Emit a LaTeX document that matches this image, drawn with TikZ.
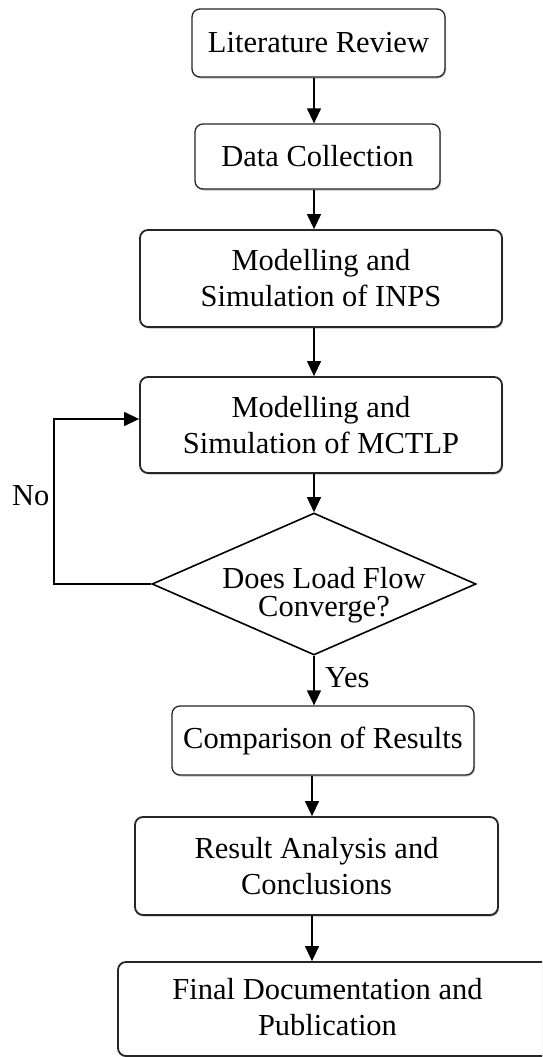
\documentclass[tikz,border=0pt]{standalone}
\usepackage{fontspec}
\setmainfont{Liberation Serif}
\usetikzlibrary{shapes.geometric,arrows.meta,shadows}
\begin{document}
\begin{tikzpicture}[x=1pt,y=-1pt,
  font=\fontsize{30.5}{36}\selectfont,
  box/.style={draw=black!85,rounded corners=8pt,line width=1.3pt,align=center,
    inner sep=0pt,fill=white,
    drop shadow={shadow xshift=1pt,shadow yshift=-1.5pt,opacity=0.25,fill=black}},
  bigbox/.style={box,line width=1.8pt},
  dec/.style={draw=black,diamond,line width=1.6pt,inner sep=0pt,align=center},
  arr/.style={line width=1.3pt,-{Triangle[width=14pt,length=15pt]}},
  lbl/.style={inner sep=0pt}
]
\useasboundingbox (0,0) rectangle (542,1057);
\clip (0,0) rectangle (542,1057);
\fill[white] (0,0) rectangle (542,1057);
\coordinate (spine) at (314,0);
\coordinate (spineb) at (312,0);
\coordinate (fb) at (54,0);

\node[box,minimum width=253pt,minimum height=68pt] (lit) at (318.5,43) {Literature Review};
\node[box,minimum width=245pt,minimum height=65pt] (data) at (317.5,156.5) {Data Collection};
\node[bigbox,minimum width=362pt,minimum height=97pt] (inps) at (321,278.5) {Modelling and\\Simulation of INPS};
\node[bigbox,minimum width=362pt,minimum height=96pt] (mctlp) at (321,425) {Modelling and\\Simulation of MCTLP};
\node[dec,minimum width=324pt,minimum height=142pt] (dec) at (314,584) {};
\node[lbl,align=center,font=\fontsize{30.5}{28.5}\selectfont] (dectext) at (324,595) {Does Load Flow\\Converge?};
\node[box,minimum width=302pt,minimum height=69pt] (comp) at (323,740.5) {Comparison of Results};
\node[bigbox,minimum width=363pt,minimum height=98pt] (res) at (316.5,866) {Result Analysis and\\Conclusions};
\node[bigbox,minimum width=442pt,minimum height=94pt] (fin) at (339,1009) {};
\node[lbl,align=center] (fintext) at (327.5,1007) {Final Documentation and\\Publication};

\node[lbl,anchor=west] (no) at (12,496) {No};
\node[lbl,anchor=west] (yes) at (325,678) {Yes};

\draw[arr] (lit.south -| spine) -- (data.north -| spine);
\draw[arr] (data.south -| spine) -- (inps.north -| spine);
\draw[arr] (inps.south -| spine) -- (mctlp.north -| spine);
\draw[arr] (mctlp.south -| spine) -- (dec.north);
\draw[arr] (dec.south) -- (comp.north -| dec.south);
\draw[arr] (comp.south -| spineb) -- (res.north -| spineb);
\draw[arr] (res.south -| spineb) -- (fin.north -| spineb);
\draw[arr] (dec.west) -| ([yshift=6pt]fb |- mctlp.west) -- ([yshift=6pt]mctlp.west);
\end{tikzpicture}
\end{document}
